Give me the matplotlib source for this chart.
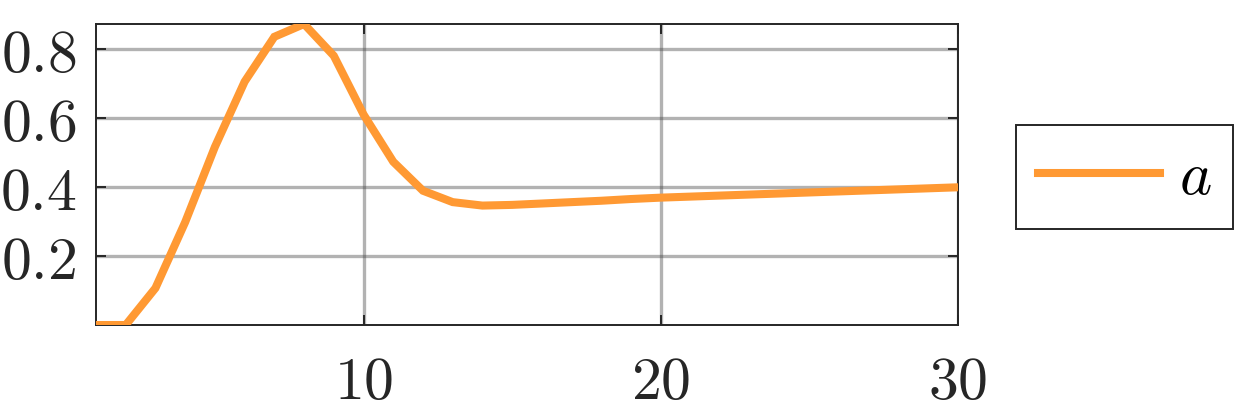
import numpy as np
import matplotlib
matplotlib.use('Agg')
import matplotlib.pyplot as plt
from matplotlib.ticker import FuncFormatter

plt.rcParams['mathtext.fontset'] = 'cm'
plt.rcParams['font.family'] = 'serif'

# values
t = np.arange(1, 31)
a = [0.0, 0.0, 0.107, 0.298, 0.516, 0.705, 0.835, 0.872, 0.780, 0.610,
     0.473, 0.389, 0.356, 0.346, 0.348, 0.352, 0.356, 0.360, 0.365, 0.369,
     0.372, 0.375, 0.378, 0.381, 0.384, 0.387, 0.390, 0.393, 0.396, 0.399]
xticks = [10, 20, 30]
yticks = [0.2, 0.4, 0.6, 0.8]
orange = '#ff9933'

fig = plt.figure(figsize=(12.5, 4.17), dpi=100)
ax = fig.add_axes([0.0768, 0.2206, 0.6896, 0.7218])

ax.plot(t, a, color=orange, lw=5.8, label=r'$a$', solid_joinstyle='miter', zorder=3)

ax.set_xlim(1, 30)
ax.set_ylim(0, 0.872)
ax.set_xticks(xticks)
ax.set_yticks(yticks)
ax.xaxis.set_major_formatter(FuncFormatter(lambda v, p: r'$%d$' % v))
ax.yaxis.set_major_formatter(FuncFormatter(lambda v, p: r'$%.1f$' % v))
ax.grid(True, color='#404040', alpha=0.4, lw=2.4)
ax.tick_params(direction='in', length=7, width=1.4, color='#262626',
               labelsize=43, top=True, right=True, labelcolor='#262626')
ax.tick_params(axis='x', pad=20)
ax.tick_params(axis='y', pad=14)
for s in ax.spines.values():
    s.set_color('#262626')
    s.set_linewidth(1.4)

leg = ax.legend(loc='upper left', bbox_to_anchor=(1016 / 1250, 1 - 125 / 417),
                bbox_transform=fig.transFigure, fontsize=44,
                handlelength=2.0, handletextpad=0.3, fancybox=False,
                framealpha=1, edgecolor='#262626', borderpad=0.36,
                borderaxespad=0.0)
leg.get_frame().set_linewidth(1.4)

fig.savefig('out.png', dpi=100)
